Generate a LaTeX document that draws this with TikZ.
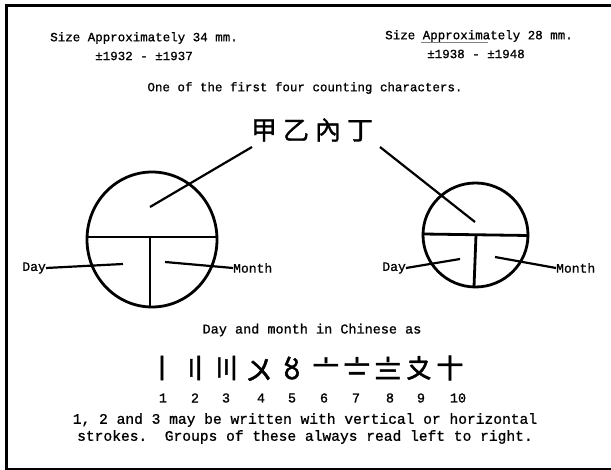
\documentclass[tikz,border=0pt]{standalone}
\usepackage{fontspec}
\setmainfont{Liberation Mono}[FakeBold=1]
\newfontfamily\cjk{Noto Sans CJK SC}[FakeBold=1.2]
\newfontfamily\cjknum{Noto Sans CJK SC}[FakeBold=1.6]
\begin{document}
\begin{tikzpicture}[x=1pt,y=-1pt,
  txt/.style={font=\fontsize{13.5}{15}\selectfont, inner sep=0pt},
  head/.style={font=\fontsize{12.5}{14}\selectfont, inner sep=0pt},
  note/.style={font=\fontsize{14.6}{16}\selectfont, inner sep=0pt},
  lbl/.style={font=\fontsize{13}{15}\selectfont, inner sep=0pt},
  hanzi/.style={font=\cjk\fontsize{26}{28}\selectfont, inner sep=0pt},
  numeral/.style={font=\cjknum\fontsize{28}{30}\selectfont, inner sep=0pt},
  ring/.style={line width=2.8pt},
  ptr/.style={line width=2.2pt},
  frame/.style={line width=3pt}]
\useasboundingbox (0,0) rectangle (611,470);
% frame
\draw[frame] (6,472) -- (6,6) -- (613,6);
\draw[line width=2pt] (5,469) -- (613,469);

% headings
\node[head] (sizeL) at (144,38) {Size Approximately 34 mm.};
\node[head] (dateL) at (144,56) {±1932 - ±1937};
\node[head] (sizeR) at (479,36) {Size Approximately 28 mm.};
\node[head] (dateR) at (476,54) {±1938 - ±1948};
\draw[line width=0.8pt, gray] (421,42) -- (488,42);
\node[head] (first) at (305,88) {One of the first four counting characters.};

% characters
\node[hanzi] (chars) at (312,130) {甲\hspace{6pt}乙\hspace{6pt}內\hspace{6pt}丁};
\coordinate (cl) at (252,147);
\coordinate (cr) at (380,147);

% left coin
\draw[ring] (152,239.5) ellipse [x radius=65pt, y radius=67.5pt];
\draw[ring] (87,237) -- (217,237);
\draw[ring] (150,237) -- (150,307);
\coordinate (lTop) at (150,207);
\coordinate (lDay) at (123,264);
\coordinate (lMon) at (165,262);
\draw[ptr] (lTop) -- (cl);
\node[lbl, anchor=east] (dayL) at (46,268) {Day};
\node[lbl, anchor=west] (monL) at (233,268) {Month};
\draw[ptr] (dayL.east) -- (lDay);
\draw[ptr] (lMon) -- (monL.west);

% right coin
\draw[ring] (475.5,235) ellipse [x radius=52.5pt, y radius=52pt];
\draw[ring] (423,234) -- (528,235.5);
\draw[ring] (476,235) -- (474,287);
\coordinate (rTop) at (475,222);
\coordinate (rDay) at (460,259);
\coordinate (rMon) at (495,257);
\draw[ptr] (cr) -- (rTop);
\node[lbl, anchor=east] (dayR) at (406,268) {Day};
\node[lbl, anchor=west] (monR) at (556,268) {Month};
\draw[ptr] (dayR.east) -- (rDay);
\draw[ptr] (rMon) -- (monR.west);

% numerals
\node[txt] (dm) at (312,330) {Day and month in Chinese as};
\node[numeral] (s1) at (162,368) {〡};
\node[numeral] (s2) at (195,368) {〢};
\node[numeral] (s3) at (226,368) {〣};
\node[numeral] (s4) at (259,370) {〤};
\node[numeral] (s5) at (292,368) {〥};
\node[numeral] (s6) at (326,368) {〦};
\node[numeral] (s7) at (357,368) {〧};
\node[numeral] (s8) at (388,368) {〨};
\node[numeral] (s9) at (419,368) {〩};
\node[numeral] (s10) at (450,368) {〸};
\node[txt] (n1) at (163,398) {1};
\node[txt] (n2) at (195,398) {2};
\node[txt] (n3) at (226,398) {3};
\node[txt] (n4) at (261,398) {4};
\node[txt] (n5) at (292,398) {5};
\node[txt] (n6) at (324,398) {6};
\node[txt] (n7) at (356,398) {7};
\node[txt] (n8) at (390,398) {8};
\node[txt] (n9) at (421,398) {9};
\node[txt] (n10) at (458,398) {10};

% notes
\node[note] (note1) at (305,420) {1, 2 and 3 may be written with vertical or horizontal};
\node[note] (note2) at (305,437) {strokes.\ \ Groups of these always read left to right.};
\end{tikzpicture}
\end{document}
